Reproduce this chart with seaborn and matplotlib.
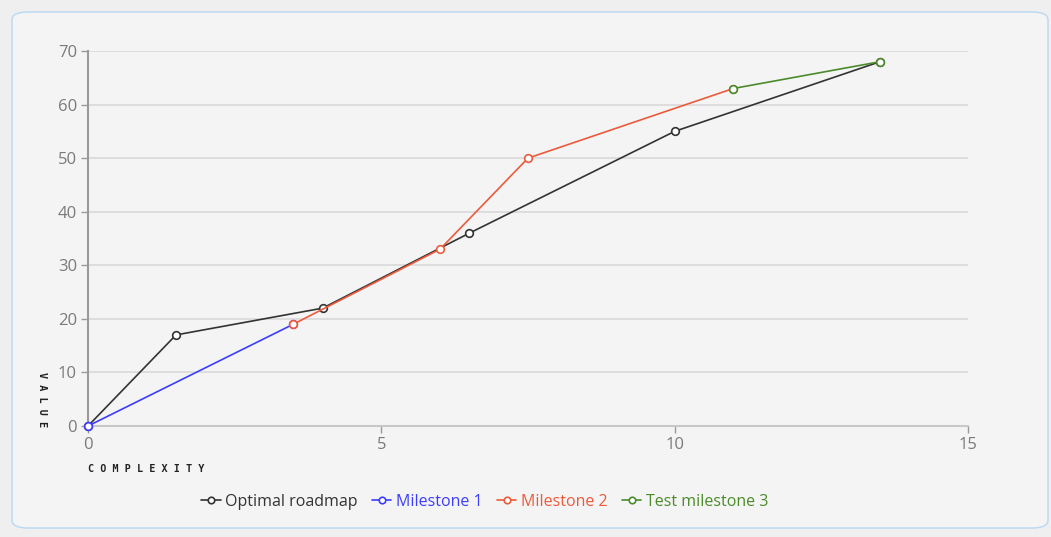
import pandas as pd
import seaborn as sns
import matplotlib.pyplot as plt
from matplotlib.patches import FancyBboxPatch

# data
series_names = ["Optimal roadmap", "Milestone 1", "Milestone 2", "Test milestone 3"]
optimal_x = [0, 1.5, 4, 6.5, 10, 13.5]
optimal_y = [0, 17, 22, 36, 55, 68]
m1_x = [0, 3.5]
m1_y = [0, 19]
m2_x = [3.5, 6, 7.5, 11]
m2_y = [19, 33, 50, 63]
m3_x = [11, 13.5]
m3_y = [63, 68]
colors = ["#333333", "#3d3dff", "#ec5a3c", "#4b8b2b"]

frames = []
for name, xs, ys in zip(series_names, [optimal_x, m1_x, m2_x, m3_x], [optimal_y, m1_y, m2_y, m3_y]):
    frames.append(pd.DataFrame({"complexity": xs, "value": ys, "series": name}))
df = pd.concat(frames, ignore_index=True)

sns.set_style("white")
plt.rcParams['font.family'] = ['Open Sans', 'DejaVu Sans']

fig = plt.figure(figsize=(10.51, 5.37), dpi=100)
fig.patch.set_facecolor("#efefef")
panel = FancyBboxPatch((12 / 1051, 1 - 528 / 537), 1036 / 1051, 516 / 537,
                       boxstyle="round,pad=0,rounding_size=0.015",
                       transform=fig.transFigure, facecolor="#f4f4f4",
                       edgecolor="#b9d8f2", linewidth=1.0, zorder=-1)
fig.patches.append(panel)

ax = fig.add_axes([88 / 1051, 1 - 426 / 537, 880 / 1051, 375 / 537])
ax.set_zorder(2)
ax.patch.set_alpha(0)

for name, c in zip(series_names, colors):
    sub = df[df["series"] == name]
    sns.lineplot(data=sub, x="complexity", y="value", ax=ax, color=c, linewidth=1.2,
                 marker="o", markersize=5.5, markerfacecolor="white",
                 markeredgecolor=c, markeredgewidth=1.2, label=name, zorder=3)

ax.set_xlim(0, 15)
ax.set_ylim(0, 70)
ax.set_xticks([0, 5, 10, 15])
ax.set_yticks(range(0, 71, 10))
ax.yaxis.grid(True, color="#d9d9d9", linewidth=1.2)
ax.xaxis.grid(False)
for s in ["top", "right"]:
    ax.spines[s].set_visible(False)
ax.spines["left"].set_color("#9a9a9a")
ax.spines["bottom"].set_color("#c8c8c8")
ax.spines["left"].set_linewidth(1.5)
ax.spines["bottom"].set_linewidth(1.5)
ax.tick_params(axis="both", left=True, bottom=True, colors="#9a9a9a", labelcolor="#7a7a7a",
               labelsize=12, length=5, width=1, pad=3)
for line in ax.lines:
    line.set_clip_on(False)

ax.set_xlabel("")
ax.set_ylabel("")
fig.text(88 / 1051, 1 - 469 / 537, "C O M P L E X I T Y", fontsize=7.3, fontweight="bold",
         family="DejaVu Sans Mono", color="#222222", ha="left", va="center")
fig.text(42 / 1051, 1 - 400 / 537, "V A L U E", fontsize=7.3, fontweight="bold",
         family="DejaVu Sans Mono", color="#222222", rotation=270, ha="center", va="center")

ax.get_legend().remove()
handles, labels = ax.get_legend_handles_labels()
leg = fig.legend(handles, labels, loc="center", bbox_to_anchor=(485 / 1051, 1 - 502 / 537),
                 ncol=4, frameon=False, fontsize=11.5, handlelength=1.2, handletextpad=0.3,
                 columnspacing=0.9, markerscale=0.85)
for text, c in zip(leg.get_texts(), colors):
    text.set_color(c)

plt.savefig("out.png", dpi=100, facecolor=fig.get_facecolor())
